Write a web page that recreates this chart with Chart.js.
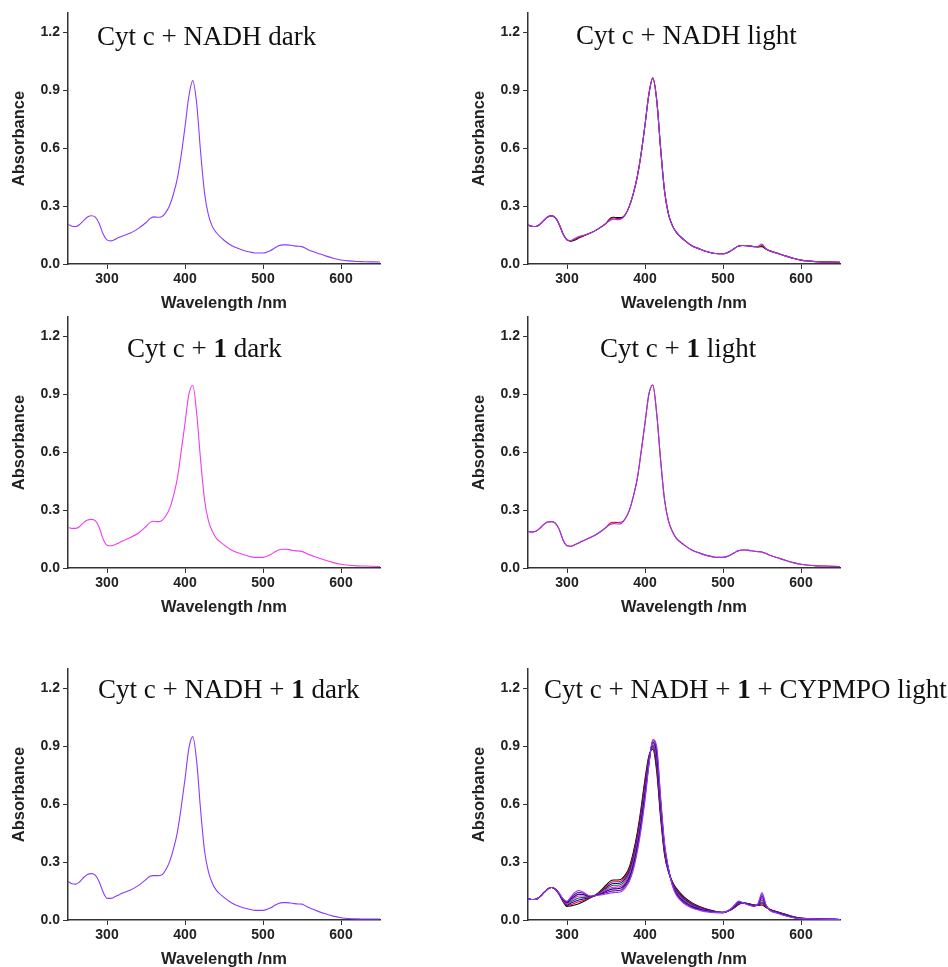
<!DOCTYPE html>
<html>
<head>
<meta charset="utf-8">
<script src="https://cdn.jsdelivr.net/npm/chart.js@4.4.1/dist/chart.umd.min.js"></script>
<style>
  html, body { margin: 0; padding: 0; background: #fff; overflow: hidden; }
  body { width: 948px; height: 967px; position: relative; }
  canvas { position: absolute; }
  .ttl {
    position: absolute;
    font-family: "Liberation Serif", "Times New Roman", serif;
    font-size: 27px;
    line-height: 27px;
    color: #111;
    white-space: nowrap;
  }
</style>
</head>
<body>
<canvas id="p1" width="400" height="320" style="left:0;top:0"></canvas>
<canvas id="p2" width="488" height="320" style="left:460px;top:0"></canvas>
<canvas id="p3" width="400" height="320" style="left:0;top:304px"></canvas>
<canvas id="p4" width="488" height="320" style="left:460px;top:304px"></canvas>
<canvas id="p5" width="400" height="320" style="left:0;top:656px"></canvas>
<canvas id="p6" width="488" height="320" style="left:460px;top:656px"></canvas>

<div class="ttl" style="left:97px;top:23px">Cyt c + NADH dark</div>
<div class="ttl" style="left:576px;top:22px">Cyt c + NADH light</div>
<div class="ttl" style="left:127px;top:335px">Cyt c + <b>1</b> dark</div>
<div class="ttl" style="left:600px;top:335px">Cyt c + <b>1</b> light</div>
<div class="ttl" style="left:98px;top:676px">Cyt c + NADH + <b>1</b> dark</div>
<div class="ttl" style="left:544px;top:676px">Cyt c + NADH + <b>1</b> + CYPMPO light</div>

<script>
// wavelength grid (nm), shared by every spectrum
const wavelength = [250,255,260,265,270,275,280,285,290,295,300,305,310,315,320,330,340,350,
  355,360,365,370,375,380,385,390,395,400,405,410,415,420,425,430,435,
  440,450,460,470,480,490,500,510,515,520,525,530,535,540,545,550,555,560,
  570,580,590,600,610,620,630,640,650];

const xTicks = [300, 400, 500, 600];
const yTicks = [0, 0.3, 0.6, 0.9, 1.2];

// Cyt c + NADH dark
const darkNADH = [.205,.196,.194,.205,.225,.243,.25,.243,.21,.155,.125,.12,.127,.137,.145,.16,.183,.215,
  .235,.244,.242,.245,.265,.3,.36,.44,.56,.71,.87,.95,.83,.58,.37,.255,.195,
  .163,.123,.095,.078,.065,.057,.057,.07,.083,.094,.099,.099,.097,.094,.092,.09,.08,.07,
  .056,.042,.03,.021,.016,.013,.012,.011,.01];

// Cyt c + NADH light (first, middle, last scans)
const lightNADH_a = [.203,.195,.194,.205,.225,.243,.249,.24,.205,.155,.125,.118,.124,.135,.143,.16,.182,.21,
  .235,.242,.24,.24,.258,.3,.365,.45,.57,.72,.88,.963,.85,.6,.38,.26,.2,
  .165,.125,.095,.078,.063,.054,.053,.068,.082,.093,.096,.095,.093,.09,.088,.09,.078,.068,
  .055,.042,.03,.02,.015,.012,.011,.01,.009];
const lightNADH_b = [.203,.195,.194,.205,.225,.243,.249,.24,.205,.155,.125,.12,.128,.138,.145,.16,.182,.21,
  .23,.238,.236,.237,.258,.3,.365,.45,.57,.72,.88,.963,.85,.6,.38,.26,.2,
  .165,.125,.095,.078,.063,.054,.053,.068,.082,.093,.096,.095,.093,.09,.09,.096,.079,.068,
  .055,.042,.03,.02,.015,.012,.011,.01,.009];
const lightNADH_c = [.203,.195,.194,.205,.225,.243,.249,.24,.205,.155,.125,.122,.132,.142,.148,.16,.182,.21,
  .225,.232,.23,.234,.258,.3,.365,.45,.57,.72,.88,.963,.85,.6,.38,.26,.2,
  .165,.125,.095,.078,.063,.054,.053,.068,.082,.093,.096,.095,.093,.09,.092,.103,.08,.068,
  .055,.042,.03,.02,.015,.012,.011,.01,.009];

// Cyt c + 1 dark
const dark1 = [.21,.205,.205,.215,.235,.248,.252,.245,.21,.15,.118,.115,.12,.13,.14,.158,.18,.215,
  .235,.242,.24,.245,.268,.305,.37,.46,.6,.75,.9,.945,.8,.56,.355,.245,.19,
  .155,.12,.092,.076,.063,.055,.055,.07,.083,.093,.097,.097,.094,.09,.088,.086,.077,.068,
  .054,.04,.028,.019,.014,.011,.01,.009,.008];

// Cyt c + 1 light
const light1_a = [.19,.186,.19,.205,.225,.238,.24,.232,.2,.145,.115,.113,.12,.13,.14,.158,.18,.21,
  .232,.237,.236,.238,.258,.3,.37,.46,.6,.75,.9,.948,.8,.56,.355,.245,.19,
  .155,.12,.093,.077,.064,.056,.055,.068,.08,.09,.093,.093,.09,.087,.085,.083,.075,.066,
  .053,.04,.028,.019,.014,.011,.01,.009,.008];
const light1_b = [.19,.186,.19,.205,.225,.238,.24,.232,.2,.145,.115,.113,.12,.13,.14,.158,.18,.21,
  .225,.23,.228,.232,.258,.3,.37,.46,.6,.75,.9,.948,.8,.56,.355,.245,.19,
  .155,.12,.093,.077,.064,.056,.055,.068,.08,.09,.093,.093,.09,.087,.085,.083,.075,.066,
  .053,.04,.028,.019,.014,.011,.01,.009,.008];

// Cyt c + NADH + 1 dark
const darkNADH1 = [.2,.188,.186,.198,.22,.236,.24,.232,.198,.145,.113,.112,.12,.13,.14,.155,.178,.21,
  .226,.23,.23,.233,.258,.3,.365,.45,.58,.73,.89,.95,.82,.57,.36,.25,.19,
  .155,.117,.088,.07,.058,.05,.05,.063,.076,.086,.09,.09,.088,.085,.083,.082,.072,.062,
  .046,.032,.02,.012,.008,.006,.005,.005,.005];

// Cyt c + NADH + 1 + CYPMPO light, successive scans
const cyp0 = [.111,.106,.107,.12,.14,.16,.168,.16,.132,.095,.07,.073,.078,.084,.093,.115,.14,.18,
  .2,.207,.207,.213,.235,.275,.35,.45,.58,.73,.85,.885,.77,.53,.34,.25,.2,
  .165,.12,.09,.07,.055,.045,.04,.052,.065,.08,.087,.087,.083,.078,.075,.078,.065,.056,
  .042,.03,.018,.01,.007,.005,.004,.003,.002];
const cyp1 = [.111,.106,.107,.12,.14,.16,.168,.16,.133,.097,.074,.08,.087,.094,.1,.117,.138,.174,
  .191,.198,.198,.204,.226,.264,.337,.436,.564,.714,.843,.892,.789,.546,.349,.253,.197,
  .16,.115,.086,.067,.053,.044,.04,.053,.067,.083,.087,.086,.082,.077,.076,.085,.067,.055,
  .041,.029,.017,.01,.007,.005,.004,.003,.002];
const cyp2 = [.111,.106,.107,.12,.14,.16,.168,.16,.134,.099,.078,.087,.096,.104,.108,.118,.136,.167,
  .183,.189,.189,.195,.216,.254,.324,.421,.549,.699,.836,.899,.807,.561,.357,.256,.194,
  .155,.11,.082,.064,.051,.043,.039,.054,.069,.085,.088,.086,.081,.076,.077,.093,.069,.054,
  .04,.028,.016,.009,.007,.005,.004,.003,.002];
const cyp3 = [.111,.106,.107,.12,.14,.16,.168,.16,.135,.101,.082,.094,.105,.114,.116,.119,.135,.161,
  .174,.18,.18,.186,.207,.243,.311,.407,.533,.683,.829,.906,.826,.577,.366,.259,.191,
  .15,.105,.078,.061,.049,.042,.039,.055,.071,.088,.088,.085,.079,.075,.079,.102,.071,.053,
  .039,.026,.015,.009,.007,.005,.004,.003,.002];
const cyp4 = [.111,.106,.107,.12,.14,.16,.168,.16,.136,.103,.086,.101,.114,.124,.124,.12,.133,.154,
  .165,.17,.171,.176,.197,.232,.299,.393,.517,.667,.821,.914,.844,.593,.374,.261,.189,
  .145,.1,.074,.059,.048,.041,.039,.055,.072,.09,.089,.084,.078,.074,.08,.112,.074,.053,
  .038,.025,.015,.008,.007,.005,.004,.003,.002];
const cyp5 = [.111,.106,.107,.12,.14,.16,.168,.16,.137,.105,.09,.108,.123,.134,.132,.121,.131,.148,
  .157,.161,.162,.167,.187,.221,.286,.378,.501,.651,.814,.921,.863,.609,.383,.264,.186,
  .14,.095,.07,.056,.046,.04,.038,.056,.074,.093,.089,.084,.077,.073,.082,.122,.076,.052,
  .037,.024,.014,.008,.007,.005,.004,.003,.002];
const cyp6 = [.111,.106,.107,.12,.14,.16,.168,.16,.138,.108,.094,.115,.133,.144,.14,.123,.13,.141,
  .148,.151,.152,.157,.178,.21,.273,.364,.486,.636,.807,.928,.881,.624,.391,.267,.183,
  .135,.09,.066,.053,.044,.039,.038,.057,.076,.095,.09,.083,.076,.072,.083,.132,.078,.051,
  .036,.023,.013,.007,.007,.005,.004,.003,.002];
const cyp7 = [.111,.106,.107,.12,.14,.16,.168,.16,.138,.11,.097,.12,.143,.153,.146,.124,.128,.135,
  .139,.142,.143,.148,.168,.2,.26,.35,.47,.62,.8,.935,.9,.64,.4,.27,.18,
  .13,.085,.062,.05,.042,.038,.038,.058,.078,.098,.09,.082,.075,.071,.085,.142,.08,.05,
  .035,.022,.012,.007,.007,.005,.004,.003,.002];

const scanColors = ["#000000", "#ff0000", "#0000ff", "#008000", "#ff00ff", "#000080", "#800080", "#8a3cff"];

const tickFont = { family: "'Liberation Sans', Arial, sans-serif", size: 14, weight: "bold" };
const axisFont = { family: "'Liberation Sans', Arial, sans-serif", size: 16.5, weight: "bold" };
const axisColor = "#333";

function drawPanel(id, series, colors, padRight) {
  return new Chart(document.getElementById(id), {
    type: "line",
    data: {
      // later scans are drawn on top of earlier ones
      datasets: series.map((s, i) => ({
        data: wavelength.map((w, j) => ({ x: w, y: s[j] })),
        borderColor: colors[i],
        borderWidth: 1.1,
        pointRadius: 0,
        cubicInterpolationMode: "monotone",
        fill: false,
        order: series.length - i
      }))
    },
    options: {
      responsive: false,
      animation: false,
      devicePixelRatio: 1,
      layout: { padding: { top: 13, right: padRight, left: 0, bottom: 0 } },
      plugins: { legend: { display: false }, tooltip: { enabled: false } },
      scales: {
        x: {
          type: "linear",
          min: 250,
          max: 650,
          afterBuildTicks: (scale) => { scale.ticks = xTicks.map(v => ({ value: v })); },
          afterFit: (scale) => { scale.height = 56; },
          grid: { drawOnChartArea: false, tickLength: 5, color: axisColor },
          border: { color: axisColor, width: 1.5 },
          ticks: { font: tickFont, color: "#222", padding: 2, maxRotation: 0, autoSkip: false },
          title: { display: true, text: "Wavelength /nm", font: axisFont, color: "#222", padding: { top: 0, bottom: 7 } }
        },
        y: {
          type: "linear",
          min: 0,
          max: 1.3,
          afterBuildTicks: (scale) => { scale.ticks = yTicks.map(v => ({ value: v })); },
          afterFit: (scale) => { scale.width = 68; },
          grid: { drawOnChartArea: false, tickLength: 5, color: axisColor },
          border: { color: axisColor, width: 1.5 },
          ticks: { font: tickFont, color: "#222", padding: 3, callback: (v) => Number(v).toFixed(1) },
          title: { display: true, text: "Absorbance", font: axisFont, color: "#222", padding: { top: 10, bottom: 0 } }
        }
      }
    }
  });
}

drawPanel("p1", [darkNADH], ["#8a3cff"], 20);
drawPanel("p2", [lightNADH_a, lightNADH_b, lightNADH_c], ["#000000", "#ff0000", "#8a3cff"], 108);
drawPanel("p3", [dark1], ["#f03cf0"], 20);
drawPanel("p4", [light1_a, light1_b], ["#ff0000", "#8a3cff"], 108);
drawPanel("p5", [darkNADH1], ["#8a3cff"], 20);
drawPanel("p6", [cyp0, cyp1, cyp2, cyp3, cyp4, cyp5, cyp6, cyp7], scanColors, 108);
</script>
</body>
</html>
